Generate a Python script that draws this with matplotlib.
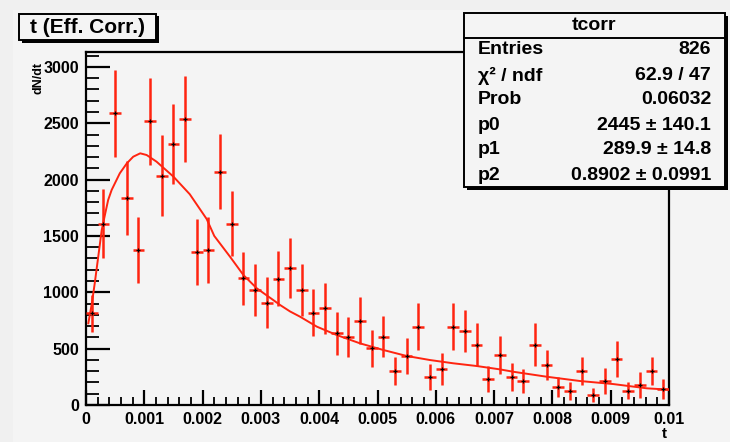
import numpy as np
import matplotlib
matplotlib.use("Agg")
import matplotlib.pyplot as plt
from matplotlib.patches import Rectangle
from matplotlib.lines import Line2D

#%% Data

bin_width = 0.0002
bin_centres = np.arange(50) * bin_width + bin_width / 2

counts = [813, 1609, 2588, 1837, 1373, 2517, 2035, 2319, 2535, 1358,
          1373, 2070, 1609, 1124, 1020, 908, 1121, 1213, 1020, 819,
          858, 636, 606, 748, 503, 606, 302, 435, 695, 246,
          319, 695, 659, 535, 231, 447, 251, 213, 535, 355,
          163, 124, 302, 89, 210, 411, 127, 177, 302, 139]

errors = [163, 305, 385, 330, 293, 385, 361, 355, 382, 293,
          293, 333, 288, 237, 230, 228, 242, 266, 230, 210,
          225, 188, 178, 207, 163, 180, 123, 160, 207, 114,
          142, 207, 188, 189, 114, 169, 123, 107, 192, 130,
          89, 77, 126, 62, 114, 160, 78, 114, 126, 89]

# fit curve, sampled by eye along the drawn line
fit_t = [0.00004, 0.0001, 0.00015, 0.00021, 0.00027, 0.00033, 0.00038,
         0.00044, 0.00058, 0.0007, 0.00081, 0.00093, 0.00104, 0.00121,
         0.0015, 0.00178, 0.00207, 0.0022, 0.00247, 0.0027, 0.00293,
         0.00321, 0.00333, 0.0035, 0.00367, 0.00396, 0.0043, 0.0047,
         0.0051, 0.0055, 0.0059, 0.0063, 0.0067, 0.0071, 0.00733,
         0.0079, 0.00847, 0.00904, 0.00962, 0.01]
fit_y = [725, 900, 1080, 1316, 1553, 1700, 1819,
         1908, 2056, 2144, 2203, 2233, 2218, 2159,
         2026, 1870, 1650, 1500, 1316, 1153, 1035,
         932, 887, 830, 784, 695, 621, 547,
         488, 435, 399, 370, 346, 316, 295,
         251, 213, 186, 148, 136]

x_ticks = [0, 0.001, 0.002, 0.003, 0.004, 0.005, 0.006, 0.007, 0.008, 0.009, 0.01]
x_tick_labels = ["0", "0.001", "0.002", "0.003", "0.004", "0.005",
                 "0.006", "0.007", "0.008", "0.009", "0.01"]
y_ticks = [0, 500, 1000, 1500, 2000, 2500, 3000]

stats_names = ["Entries", "\u03c7\u00b2 / ndf", "Prob", "p0", "p1", "p2"]
stats_values = ["826", "62.9 / 47", "0.06032", "2445 \u00b1 140.1",
                "289.9 \u00b1 14.8", "0.8902 \u00b1 0.0991"]

#%% Figure

W, H = 730, 442
plt.rcParams['font.family'] = ['Liberation Sans', 'DejaVu Sans']
plt.rcParams['font.weight'] = 'bold'

bg = '#f4f4f4'
red = '#ff2410'


def fx(x):
    return x / W


def fy(y):
    return 1 - y / H


def box(fig, x0, y0, x1, y1, shadow=3):
    # ROOT style pave: black shadow to lower right, then the box itself
    fig.patches.append(Rectangle((fx(x0 + shadow), fy(y1 + shadow)), (x1 - x0) / W, (y1 - y0) / H,
                                 transform=fig.transFigure, facecolor='black', edgecolor='black',
                                 lw=0, zorder=5))
    fig.patches.append(Rectangle((fx(x0), fy(y1)), (x1 - x0) / W, (y1 - y0) / H,
                                 transform=fig.transFigure, facecolor=bg, edgecolor='black',
                                 lw=1.4, zorder=6))


fig = plt.figure(figsize=(W / 100, H / 100), dpi=100, facecolor='#f0f0f0')
fig.patches.append(Rectangle((fx(13), 0), 1, fy(10), transform=fig.transFigure,
                             facecolor=bg, edgecolor='none', zorder=-5))

ax = fig.add_axes([fx(86), fy(405), (669 - 86) / W, (405 - 52) / H])
ax.set_facecolor(bg)
ax.set_xlim(0, 0.01)
ax.set_ylim(0, 3132)

ax.errorbar(bin_centres, counts, xerr=bin_width / 2, yerr=errors, fmt='none',
            ecolor=red, elinewidth=1.8, capsize=0, zorder=3)
ax.plot(bin_centres, counts, '+', color='black', ms=3.5, mew=0.9, zorder=4)
ax.plot(fit_t, fit_y, color=red, lw=1.4, zorder=3)

for s in ax.spines.values():
    s.set_linewidth(1.6)

ax.set_xticks(x_ticks)
ax.set_xticklabels(x_tick_labels)
ax.set_xticks(np.arange(0, 0.0101, 0.0002), minor=True)
ax.set_yticks(y_ticks)
ax.set_yticks(np.arange(0, 3101, 100), minor=True)
ax.tick_params(axis='x', which='major', direction='in', length=10.5, width=1.6,
               labelsize=11.5, pad=5, top=False)
ax.tick_params(axis='x', which='minor', direction='in', length=6, width=1.3, top=False)
ax.tick_params(axis='y', which='major', direction='in', length=17, width=1.6,
               labelsize=11.5, pad=5, right=False)
ax.tick_params(axis='y', which='minor', direction='in', length=9, width=1.3, right=False)
for lab in ax.get_xticklabels() + ax.get_yticklabels():
    lab.set_fontweight('bold')

fig.text(fx(667), fy(434), "t", ha='right', va='center', fontsize=11, fontweight='bold')
fig.text(fx(38), fy(62), "dN/dt", rotation=90, ha='center', va='top', fontsize=9, fontweight='bold')

# title pave
box(fig, 19, 14, 156, 40, shadow=2.5)
fig.text(fx(87.5), fy(27.5), "t (Eff. Corr.)", ha='center', va='center', fontsize=15,
         fontweight='bold', zorder=7)

# stats pave
box(fig, 464, 13, 725, 187, shadow=3)
fig.lines.append(Line2D([fx(464), fx(725)], [fy(38), fy(38)], transform=fig.transFigure,
                        color='black', lw=1.4, zorder=7))
fig.text(fx(594.5), fy(26), "tcorr", ha='center', va='center', fontsize=14,
         fontweight='bold', zorder=7)
row_y = [50, 76, 100, 125, 150, 176]
for name, val, yy in zip(stats_names, stats_values, row_y):
    fig.text(fx(478), fy(yy), name, ha='left', va='center', fontsize=14,
             fontweight='bold', zorder=7)
    fig.text(fx(711), fy(yy), val, ha='right', va='center', fontsize=14,
             fontweight='bold', zorder=7)

fig.savefig("out.png", dpi=100, facecolor=fig.get_facecolor())
